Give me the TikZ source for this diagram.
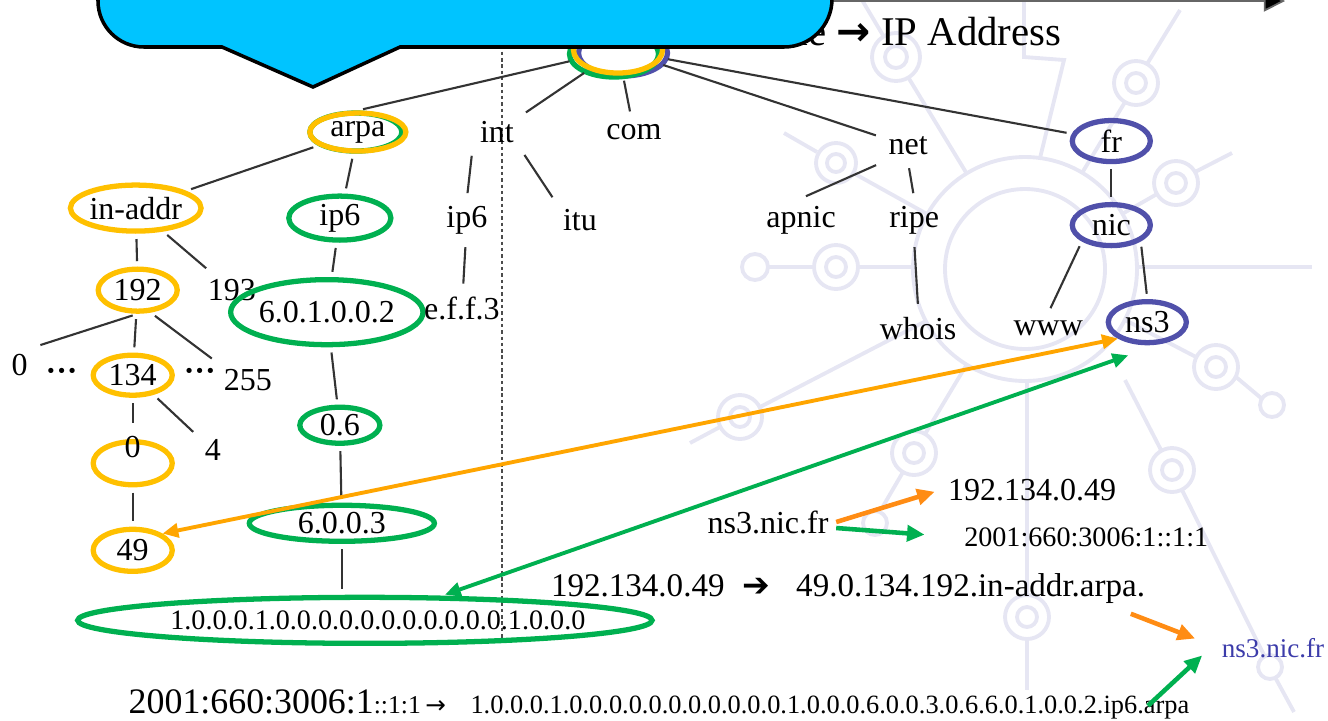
\documentclass[tikz,border=0pt]{standalone}
\usepackage{fontspec}
\setmainfont{Liberation Serif}
\newfontfamily\arrowfont{DejaVu Sans}
\usetikzlibrary{positioning,shapes.geometric,arrows.meta}

\definecolor{amber}{RGB}{255,192,0}
\definecolor{leafgreen}{RGB}{0,176,80}
\definecolor{frblue}{RGB}{80,80,170}
\definecolor{nsblue}{RGB}{60,60,170}
\definecolor{ipvfour}{RGB}{255,165,0}
\definecolor{hintorange}{RGB}{255,140,20}
\definecolor{bubble}{RGB}{0,196,255}
\definecolor{faint}{RGB}{230,230,243}

\tikzset{
  ring/.style={ellipse, line width=1.5pt, inner sep=0pt, font=\fontsize{9.1}{10}\selectfont},
  yring/.style={ring, draw=amber, minimum width=7.9mm, minimum height=4.2mm},
  gring/.style={ring, draw=leafgreen, minimum width=8mm, minimum height=3.6mm},
  bring/.style={ring, draw=frblue, minimum width=7.8mm, minimum height=4.1mm},
  leaf/.style={inner sep=2pt, font=\fontsize{9.1}{10}\selectfont},
  link/.style={draw=black!80, line width=0.6pt, shorten <=1.5pt, shorten >=1.5pt},
  fourline/.style={draw=ipvfour, line width=1.1pt},
  sixline/.style={draw=leafgreen, line width=1.1pt},
  hintfour/.style={draw=hintorange, line width=1.3pt, >={Triangle[length=5pt,width=4.5pt]}},
  hintsix/.style={draw=leafgreen, line width=1.3pt, >={Triangle[length=5pt,width=4.5pt]}}
}

\begin{document}
\begin{tikzpicture}[x=0.01cm, y=0.01cm, on grid, >={Triangle[length=4.5pt,width=4pt]}]
\useasboundingbox (0,0) rectangle (1328,720);

% faint logo behind the tree
\begin{scope}[shift={(0,720)}, yscale=-1, color=faint, line width=1.1pt]
  \draw (1025,269) circle (80) (1025,269) circle (112);
  \draw (1137,267) -- (1312,267);
  \draw (913,267) -- (858,267) (814,267) -- (768,267);
  \draw (836,267) circle (22) (836,267) circle (10) (755,267) circle (13);
  \draw (927,214) -- (855,174) (817,152) -- (784,133);
  \draw (836,163) circle (20) (836,163) circle (9);
  \draw (1122,214) -- (1157,194) (1195,172) -- (1232,153);
  \draw (1176,183) circle (22) (1176,183) circle (10);
  \draw (1125,320) -- (1196,357) (1236,377) -- (1261,398);
  \draw (1216,367) circle (22) (1216,367) circle (10) (1272,405) circle (12);
  \draw (1125,380) -- (1161,450) (1182,490) -- (1264,655) (1276,679) -- (1294,712);
  \draw (1172,470) circle (22) (1172,470) circle (10) (1270,667) circle (12);
  \draw (1027,381) -- (1027,595) (1027,639) -- (1027,690);
  \draw (1027,617) circle (22) (1027,617) circle (10);
  \draw (967,364) -- (925,434) (903,472) -- (882,508);
  \draw (914,453) circle (22) (914,453) circle (10) (875,523) circle (12);
  \draw (926,321) -- (760,407) (720,427) -- (690,443);
  \draw (740,417) circle (22) (740,417) circle (10);
  \draw (1024,0) -- (1024,57) -- (1064,60) -- (1040,158);
  \draw (862,0) -- (884,37) (908,77) -- (967,174);
  \draw (896,57) circle (24) (896,57) circle (11);
  \draw (1180,10) -- (1147,64) (1125,102) -- (1082,173);
  \draw (1136,83) circle (22) (1136,83) circle (10);
\end{scope}

\node[anchor=base east, inner sep=0pt, font=\fontsize{11.6}{14}\selectfont] (title) at (1062,675) {Domain Name {\arrowfont\bfseries →} IP Address};
\coordinate (railstart) at (700,719);
\coordinate (railend) at (1285,719);
\draw[-{Triangle[length=6pt,width=6pt,fill=black]}, draw=black!60, line width=0.5pt] (railstart) -- (railend);
\coordinate (cuttop) at (502,700);
\coordinate (cutbot) at (502,78);
\draw[black!70, line width=0.5pt, dash pattern=on 1pt off 0.8pt] (cuttop) -- (cutbot);

% root and top level
\node[bring, minimum width=8.9mm, minimum height=4.6mm] (rootblue) at (623,667) {};
\node[gring, minimum width=8.9mm, minimum height=4.6mm] (rootgreen) at (614,666) {};
\node[yring, minimum width=8.9mm, minimum height=4.6mm] (root) at (618,670) {};
\node[gring, minimum width=9.2mm, minimum height=3.8mm] (arpagreen) [below left=8.2mm and 26.2mm of root] {};
\node[yring, minimum width=9.6mm, minimum height=3.8mm] (arpa) [below left=8.2mm and 26mm of root] {arpa};
\node[leaf] (int) [below left=8.2mm and 12.1mm of root] {int};
\node[leaf] (com) [below right=8.2mm and 1.6mm of root] {com};
\node[leaf] (net) [below right=9.6mm and 29mm of root] {net};
\node[bring] (fr) [below right=9.1mm and 49.3mm of root] {fr};

% second level
\node[yring, minimum width=10.3mm, minimum height=4.6mm] (inaddr) [below left=7.6mm and 22.2mm of arpa] {in-addr};
\node[gring, minimum width=10.2mm, minimum height=4.4mm] (ipsix) [below left=8.6mm and 1.8mm of arpa] {ip6};
\node[leaf] (intipsix) [below left=8.8mm and 3mm of int] {ip6};
\node[leaf] (itu) [below right=8.8mm and 8.3mm of int] {itu};
\node[leaf] (apnic) [below left=7.4mm and 10.7mm of net] {apnic};
\node[leaf] (ripe) [below right=7.4mm and 0.6mm of net] {ripe};
\node[bring] (nic) [below=8.4mm of fr] {nic};

% third level
\node[yring] (n192) [below right=8.2mm and 0.2mm of inaddr] {192};
\node[leaf] (n193) [below right=8.2mm and 9.6mm of inaddr] {193};
\node[gring, minimum width=17.3mm, minimum height=6.5mm] (v6a) [below left=9.4mm and 1.3mm of ipsix] {6.0.1.0.0.2};
\node[leaf] (eff) [below left=8.8mm and 0.5mm of intipsix] {e.f.f.3};
\node[leaf] (whois) [below right=10.8mm and 0.4mm of ripe] {whois};
\node[leaf] (www) [below left=10.3mm and 6.3mm of nic] {www};
\node[bring] (nsthree) [below right=9.7mm and 3.6mm of nic] {ns3};

% deeper
\node[leaf] (zeroL) [below left=7.5mm and 11.8mm of n192] {0};
\node[yring, minimum height=4mm] (n134) [below left=8.5mm and 0.5mm of n192] {134};
\node[leaf] (dotsL) [left=7.1mm of n134] {\textbf{···}};
\node[leaf] (dotsR) [right=6.7mm of n134] {\textbf{···}};
\node[leaf] (n255) [below right=9mm and 11mm of n192] {255};
\node[gring] (v6b) [below right=11.3mm and 1.3mm of v6a] {0.6};
\node[yring, minimum height=4.3mm] (zeroE) [below=8.8mm of n134] {};
\node[leaf] (zeroT) [above=1.6mm of zeroE] {0};
\node[leaf] (four) [below right=7.5mm and 8mm of n134] {4};
\node[yring] (n49) [below=8.7mm of zeroE] {49};
\node[gring, minimum width=18.5mm] (v6c) [below right=9.8mm and 0.2mm of v6b] {6.0.0.3};
\node[gring, minimum width=57.4mm, minimum height=4.6mm, inner xsep=-8pt, font=\fontsize{8}{9}\selectfont] (v6d) [below right=9.7mm and 2.3mm of v6c] {\hspace*{7.4pt}1.0.0.0.1.0.0.0.0.0.0.0.0.0.0.0.1.0.0.0};

% lookups
\node[leaf] (nsname) at (768,198) {ns3.nic.fr};
\node[leaf] (ipfour) [above right=3.2mm and 26.4mm of nsname] {192.134.0.49};
\node[leaf, font=\fontsize{8}{9}\selectfont] (ipsixaddr) [below right=1.5mm and 31.8mm of nsname] {2001:660:3006:1::1:1};
\node[leaf, font=\fontsize{9.4}{11}\selectfont] (revfour) [below right=6.6mm and 8mm of nsname] {192.134.0.49\hspace{5pt}{\arrowfont ➔}\hspace{7.5pt}49.0.134.192.in-addr.arpa.};
\node[leaf, text=nsblue, font=\fontsize{7.7}{9}\selectfont] (nsblue) at (1273,72) {ns3.nic.fr};
\node[inner sep=0pt, anchor=base west] (revsixa) at (128,7) {\fontsize{10.2}{12}\selectfont 2001:660:3006:1\fontsize{7.3}{9}\selectfont ::1:1};
\node[inner sep=0pt, anchor=base west] (revsixb) at ([xshift=0.3mm]revsixa.base east) {{\arrowfont\fontsize{7}{8}\selectfont →}\hspace{7pt}\fontsize{7.5}{9}\selectfont 1.0.0.0.1.0.0.0.0.0.0.0.0.0.0.0.1.0.0.0.6.0.0.3.0.6.6.0.1.0.0.2.ip6.arpa};

\path[link]
(root) edge (arpa.north) edge (int) edge (com) edge (net) edge (fr)
(arpa) edge (inaddr) edge (ipsix)
(int.south west) edge (intipsix.north)
(int.south east) edge (itu.north west)
(net.south west) edge (apnic.north)
(net.south) edge (ripe.north)
(fr) edge (nic)
(nic.south west) edge (www.north)
(nic.south east) edge (nsthree.north)
(ripe.south) edge (whois.north)
(inaddr) edge (n192) edge (n193)
(ipsix) edge (v6a)
(intipsix) edge (eff)
(n192.south) edge (zeroL.north east)
(n192) edge (n134)
(n192.-60) edge (n255.north west)
(v6a) edge (v6b)
(n134) edge (zeroT) edge (four)
(zeroE) edge (n49)
(v6b) edge (v6c)
(v6c.south) edge (v6c.south |- v6d.north);

\draw[fourline, <->] (nsthree.south west) -- (n49.north east);
\draw[sixline, <->] ([xshift=-1.9mm,yshift=-1mm]nsthree.south) -- ([xshift=8mm]v6d.north);
\draw[hintfour, ->, shorten >=0.6mm] (nsname.east) -- (ipfour.west);
\draw[hintsix, ->, shorten >=3.2mm] ([yshift=-0.6mm]nsname.east) -- (ipsixaddr.west);
\draw[hintfour, ->] ([xshift=-2.2mm,yshift=-0.3mm]revfour.south east) -- ([xshift=-1.9mm,yshift=-0.8mm]nsblue.north west);
\draw[hintsix, ->] ([xshift=-4.2mm,yshift=-1.1mm]revsixb.north east) -- ([xshift=-1.2mm,yshift=1mm]nsblue.south west);

% speech bubble on top
\path[draw=black, line width=1pt, fill=bubble]
(98,780) -- (98,719) arc[start angle=180, end angle=270, radius=46]
-- (222,673) -- (313,633) -- (400,673) -- (784,673)
arc[start angle=270, end angle=360, radius=48] -- (832,780) -- cycle;
\end{tikzpicture}
\end{document}
